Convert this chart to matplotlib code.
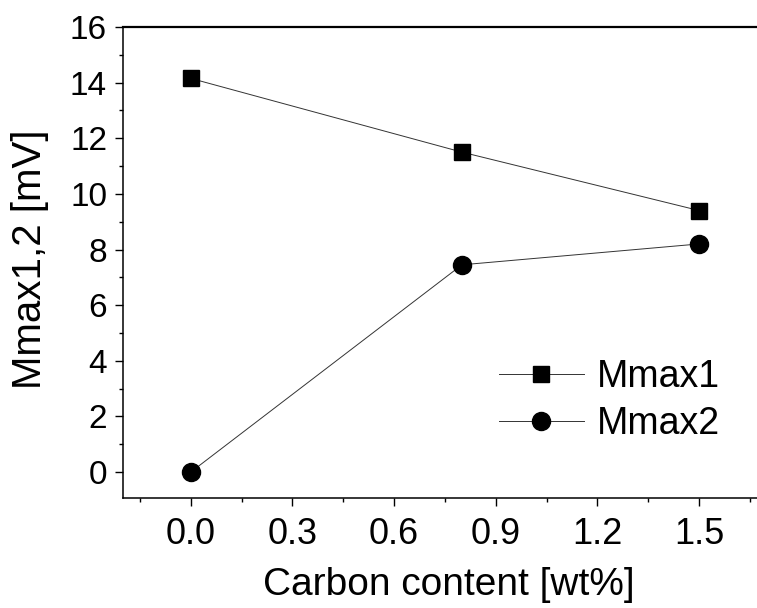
import matplotlib.pyplot as plt
from matplotlib.ticker import MultipleLocator

# values
carbon = [0.0, 0.8, 1.5]
mmax1 = [14.15, 11.5, 9.4]
mmax2 = [0.0, 7.45, 8.2]
series_labels = ["Mmax1", "Mmax2"]

plt.rcParams['font.family'] = ['Liberation Sans', 'DejaVu Sans']

fig = plt.figure(figsize=(7.57, 6.08), dpi=100)
# axes run past the right edge of the picture, as in the cropped original
ax = fig.add_axes([0.1625, 0.181, 0.873, 0.7747])

ax.plot(carbon, mmax1, color='#333333', lw=0.7, marker='s', ms=12,
        mfc='black', mec='black', label=series_labels[0])
ax.plot(carbon, mmax2, color='#333333', lw=0.7, marker='o', ms=13,
        mfc='black', mec='black', label=series_labels[1])

ax.set_xlim(-0.2, 1.75)
ax.set_ylim(-0.93, 16)
ax.xaxis.set_major_locator(MultipleLocator(0.3))
ax.xaxis.set_minor_locator(MultipleLocator(0.15))
ax.yaxis.set_major_locator(MultipleLocator(2))
ax.yaxis.set_minor_locator(MultipleLocator(1))
ax.xaxis.set_major_formatter(plt.FuncFormatter(lambda v, p: f"{v:.1f}"))

ax.spines['right'].set_visible(False)
for s in ['left', 'bottom']:
    ax.spines[s].set_linewidth(1.1)
ax.spines['top'].set_linewidth(1.6)

ax.tick_params(axis='both', which='major', direction='out', length=5.5, width=1)
ax.tick_params(axis='both', which='minor', direction='out', length=3, width=1)
ax.tick_params(axis='x', which='major', pad=8, labelsize=26)
ax.tick_params(axis='y', which='major', pad=6, labelsize=24)
ax.tick_params(top=False, right=False, which='both')

ax.set_xlabel("Carbon content [wt%]", fontsize=28, labelpad=11)
ax.set_ylabel("Mmax1,2 [mV]", fontsize=29, labelpad=15)
ax.xaxis.label.set_x(0.493)
ax.yaxis.label.set_y(0.507)

ax.legend(loc='upper left', bbox_to_anchor=(0.6586, 0.41),
          bbox_transform=fig.transFigure, frameon=False, fontsize=27,
          handlelength=2.27, handletextpad=0.35, labelspacing=0.3,
          borderpad=0, borderaxespad=0)

fig.savefig("out.png", dpi=100)
